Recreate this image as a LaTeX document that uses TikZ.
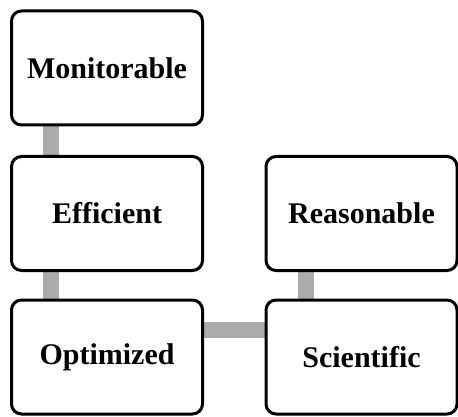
\documentclass[tikz,border=0pt]{standalone}
\usepackage{fontspec}
\setmainfont{Liberation Serif}
\usetikzlibrary{backgrounds}
\tikzset{
  box/.style={draw=black, line width=3pt, rounded corners=10pt, fill=white,
    minimum width=191pt, minimum height=114pt, inner sep=0pt,
    font=\fontsize{30}{36}\selectfont\bfseries},
  link/.style={draw=linkgray, line width=16pt}
}
\definecolor{linkgray}{HTML}{ABABAB}
\begin{document}
\begin{tikzpicture}[x=1pt,y=1pt]
\useasboundingbox (0,0) rectangle (458,-417);
\node[box] (M) at (107,-68) {Monitorable};
\node[box] (E) at (107,-213.5) {Efficient};
\node[box] (O) at (107,-357) {Optimized};
\node[box] (R) at (361.5,-213.5) {Reasonable};
\node[box] (S) at (361.5,-357) {Scientific};
\begin{scope}[on background layer]
\draw[link] ([xshift=41pt]M.south west) -- ([xshift=41pt]E.north west);
\draw[link] ([xshift=41pt]E.south west) -- ([xshift=41pt]O.north west);
\draw[link] ([xshift=41pt]R.south west) -- ([xshift=41pt]S.north west);
\draw[link] ([yshift=27pt]O.east) -- ([yshift=27pt]S.west);
\end{scope}
\end{tikzpicture}
\end{document}
